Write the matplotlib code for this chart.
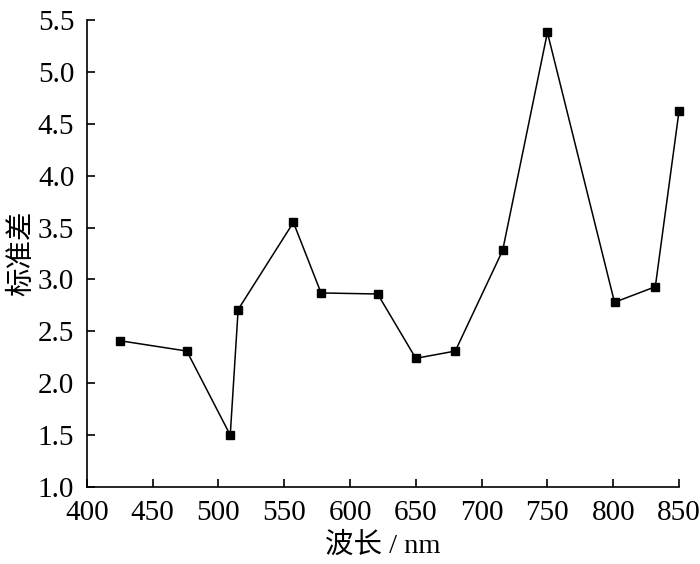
import matplotlib
matplotlib.use('Agg')
from matplotlib import pyplot as plt

# Wavelength (nm) and standard deviation.
wavelength = [425, 476, 509, 515, 557, 578, 621, 650, 680, 716, 750, 801, 832, 850]
std_dev = [2.41, 2.31, 1.50, 2.71, 3.55, 2.87, 2.86, 2.24, 2.31, 3.28, 5.38, 2.78, 2.93, 4.62]

x_ticks = [400, 450, 500, 550, 600, 650, 700, 750, 800, 850]
y_ticks = [1.0, 1.5, 2.0, 2.5, 3.0, 3.5, 4.0, 4.5, 5.0, 5.5]

plt.rcParams['font.family'] = ['Liberation Serif', 'Noto Sans CJK SC']

fig = plt.figure(figsize=(7, 5.64), dpi=100)
ax = fig.add_axes([0.124, 0.1365, 0.846, 0.828])

ax.plot(wavelength, std_dev, color='black', linewidth=1.1, clip_on=False,
        marker='s', markersize=5.5, markerfacecolor='black', markeredgecolor='black')

ax.set_xlim(400, 850)
ax.set_ylim(1.0, 5.5)
ax.set_xticks(x_ticks)
ax.set_yticks(y_ticks)
ax.set_yticklabels(['%.1f' % v for v in y_ticks])

ax.spines['top'].set_visible(False)
ax.spines['right'].set_visible(False)
for side in ['left', 'bottom']:
    ax.spines[side].set_linewidth(1.2)

ax.tick_params(axis='both', direction='in', length=6, width=1.2, labelsize=21)
ax.tick_params(axis='x', pad=9)
ax.tick_params(axis='y', pad=9)
ax.set_xlabel('波长 / nm', fontsize=20.5, labelpad=5)
ax.set_ylabel('标准差', fontsize=20.5, labelpad=2)

fig.savefig('out.png', dpi=100)
